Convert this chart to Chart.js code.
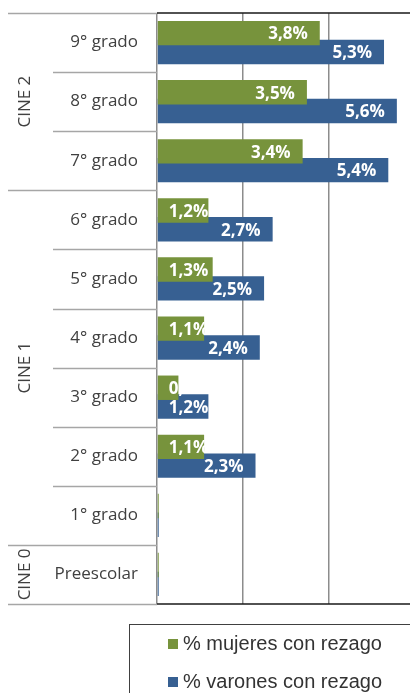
<!DOCTYPE html>
<html>
<head>
<meta charset="utf-8">
<script src="https://cdn.jsdelivr.net/npm/chart.js@4"></script>
<style>
  html, body { margin: 0; padding: 0; background: #fff; overflow: hidden; }
  #wrap { width: 410px; height: 693px; overflow: hidden; }
</style>
</head>
<body>
<div id="wrap"><canvas id="chart" width="416" height="693"></canvas></div>
<script>
// Data
const categories = ['9° grado', '8° grado', '7° grado', '6° grado', '5° grado', '4° grado', '3° grado', '2° grado', '1° grado', 'Preescolar'];
const mujeres = [3.8, 3.5, 3.4, 1.2, 1.3, 1.1, 0.5, 1.1, 0.04, 0.04];
const varones = [5.3, 5.6, 5.4, 2.7, 2.5, 2.4, 1.2, 2.3, 0.04, 0.04];
const groupNames = ['CINE 2', 'CINE 1', 'CINE 0'];
const groupSizes = [3, 6, 1];
const seriesNames = ['% mujeres con rezago', '% varones con rezago'];
const xMax = 6;
const xStep = 2;

const colors = ['#77933c', '#376092'];

function fmt(v) {
    return v.toFixed(1).replace('.', ',') + '%';
}

// Labels, category axis with groups, borders and legend
const decor = {
    id: 'decor',
    afterDatasetsDraw(chart) {
        const ctx = chart.ctx;
        ctx.save();
        ctx.font = 'bold 17px "Open Sans"';
        ctx.fillStyle = '#ffffff';
        ctx.textAlign = 'left';
        ctx.textBaseline = 'middle';
        chart.data.datasets.forEach((ds, d) => {
            chart.getDatasetMeta(d).data.forEach((bar, i) => {
                const v = ds.data[i];
                if (v < 0.1) return;
                const txt = fmt(v);
                const w = ctx.measureText(txt).width;
                const x = Math.max(bar.base + 11, bar.x - 12 - w);
                ctx.fillText(txt, x, bar.y + 1.5);
            });
        });
        ctx.restore();
    },
    afterDraw(chart) {
        const ctx = chart.ctx;
        const area = chart.chartArea;
        const y = chart.scales.y;
        const n = categories.length;
        const half = (y.getPixelForValue(1) - y.getPixelForValue(0)) / 2;
        const edge = i => (i < n ? y.getPixelForValue(i) - half : y.getPixelForValue(n - 1) + half);

        ctx.save();
        // black top and bottom lines of the plot
        ctx.strokeStyle = '#1a1a1a';
        ctx.lineWidth = 1.5;
        ctx.beginPath();
        ctx.moveTo(area.left, area.top);
        ctx.lineTo(area.right, area.top);
        ctx.moveTo(area.left, area.bottom);
        ctx.lineTo(area.right, area.bottom);
        ctx.stroke();

        // separators in the label area
        const groupEdges = [0];
        groupSizes.forEach(s => groupEdges.push(groupEdges[groupEdges.length - 1] + s));
        ctx.strokeStyle = '#a6a6a6';
        ctx.lineWidth = 1.5;
        for (let i = 0; i <= n; i++) {
            const py = Math.round(edge(i)) + 0.5;
            const x0 = groupEdges.includes(i) ? area.left - 149 : area.left - 104;
            ctx.beginPath();
            ctx.moveTo(x0, py);
            ctx.lineTo(area.left, py);
            ctx.stroke();
        }

        // category labels
        ctx.fillStyle = '#404040';
        ctx.font = '17px "Open Sans"';
        ctx.textAlign = 'right';
        ctx.textBaseline = 'middle';
        categories.forEach((c, i) => {
            ctx.fillText(c, area.left - 19, y.getPixelForValue(i));
        });

        // group labels
        ctx.textAlign = 'center';
        groupNames.forEach((g, k) => {
            const cy = (edge(groupEdges[k]) + edge(groupEdges[k + 1])) / 2;
            ctx.save();
            ctx.translate(area.left - 132, cy);
            ctx.rotate(-Math.PI / 2);
            ctx.fillText(g, 0, 0);
            ctx.restore();
        });

        // legend
        const lx = area.left - 28;
        const ly = area.bottom + 20;
        ctx.strokeStyle = '#404040';
        ctx.lineWidth = 1;
        ctx.strokeRect(lx + 0.5, ly + 0.5, 1000, 1000);
        ctx.font = '20px "Liberation Sans"';
        ctx.textAlign = 'left';
        ctx.fillStyle = '#333333';
        seriesNames.forEach((s, k) => {
            const cy = ly + 20 + k * 38;
            ctx.fillStyle = colors[k];
            ctx.fillRect(area.left + 11, cy - 5, 10, 10);
            ctx.fillStyle = '#333333';
            ctx.fillText(s, area.left + 26, cy);
        });
        ctx.restore();
    }
};

new Chart(document.getElementById('chart'), {
    type: 'bar',
    data: {
        labels: categories,
        datasets: [
            { label: seriesNames[0], data: mujeres, backgroundColor: colors[0] },
            { label: seriesNames[1], data: varones, backgroundColor: colors[1] }
        ]
    },
    options: {
        indexAxis: 'y',
        responsive: false,
        devicePixelRatio: 1,
        animation: false,
        categoryPercentage: 0.636,
        barPercentage: 1.3,
        layout: { padding: { left: 157, top: 13, right: 2, bottom: 89 } },
        scales: {
            x: {
                min: 0,
                max: xMax,
                ticks: { display: false, stepSize: xStep },
                grid: { color: '#8c8c8c', lineWidth: 1.5, drawTicks: false },
                border: { display: false },
                afterFit: s => { s.height = 0; }
            },
            y: { display: false }
        },
        plugins: {
            legend: { display: false },
            tooltip: { enabled: false }
        }
    },
    plugins: [decor]
});
</script>
</body>
</html>
